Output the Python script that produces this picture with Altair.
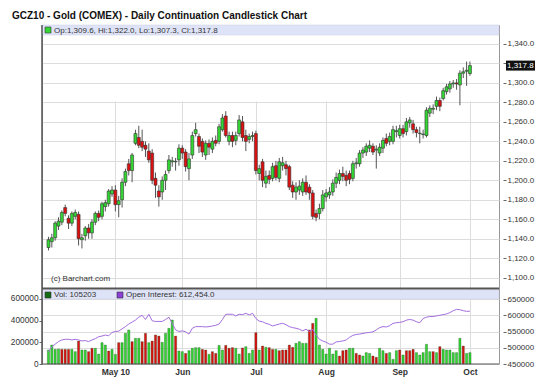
import altair as alt
import pandas as pd

# ---------------- data ----------------
opens = [1131, 1137, 1141, 1153, 1157, 1172, 1161, 1156, 1163, 1165,
         1139, 1143, 1151, 1146, 1157, 1166, 1163, 1173, 1176, 1186,
         1190, 1175, 1180, 1198, 1217, 1210, 1238, 1244, 1240, 1236,
         1230, 1228, 1202, 1189, 1188, 1200, 1210, 1219, 1219, 1221,
         1233, 1229, 1212, 1226, 1248, 1245, 1240, 1226, 1238, 1232,
         1241, 1240, 1252, 1266, 1240, 1246, 1241, 1248, 1260, 1246,
         1242, 1245, 1248, 1207, 1219, 1197, 1205, 1202, 1215, 1202,
         1215, 1216, 1214, 1195, 1188, 1190, 1188, 1198, 1193, 1187,
         1166, 1166, 1171, 1183, 1185, 1188, 1197, 1200, 1207, 1205,
         1207, 1202, 1217, 1217, 1228, 1229, 1233, 1235, 1231, 1228,
         1233, 1243, 1240, 1240, 1250, 1246, 1253, 1250, 1259, 1258,
         1252, 1248, 1247, 1246, 1269, 1273, 1276, 1282, 1284, 1291,
         1294, 1299, 1300, 1298, 1310, 1312, 1309.6]
highs = [1142, 1145, 1158, 1162, 1169, 1175, 1164, 1168, 1170, 1168,
         1145, 1153, 1155, 1160, 1168, 1169, 1178, 1180, 1191, 1194,
         1195, 1184, 1202, 1212, 1222, 1228, 1252, 1256, 1252, 1240,
         1238, 1232, 1208, 1195, 1204, 1210, 1226, 1224, 1223, 1237,
         1236, 1232, 1228, 1250, 1259, 1248, 1243, 1241, 1242, 1244,
         1246, 1258, 1268, 1271, 1250, 1250, 1250, 1267, 1266, 1252,
         1248, 1250, 1251, 1216, 1222, 1210, 1210, 1218, 1220, 1223,
         1224, 1220, 1216, 1199, 1198, 1200, 1202, 1205, 1196, 1190,
         1170, 1176, 1190, 1191, 1193, 1201, 1208, 1211, 1214, 1210,
         1210, 1220, 1223, 1231, 1234, 1238, 1241, 1238, 1236, 1238,
         1244, 1248, 1249, 1256, 1256, 1257, 1257, 1264, 1265, 1262,
         1255, 1255, 1252, 1275, 1277, 1278, 1286, 1285, 1295, 1299,
         1302, 1303, 1304, 1313, 1316, 1322, 1322.0]
lows = [1128, 1131, 1138, 1149, 1154, 1163, 1150, 1153, 1160, 1133,
        1130, 1138, 1140, 1140, 1154, 1158, 1160, 1168, 1173, 1183,
        1168, 1162, 1172, 1194, 1205, 1198, 1236, 1233, 1230, 1224,
        1218, 1196, 1182, 1173, 1180, 1190, 1207, 1214, 1210, 1215,
        1222, 1209, 1200, 1222, 1245, 1228, 1224, 1221, 1226, 1228,
        1235, 1237, 1250, 1244, 1236, 1234, 1236, 1245, 1240, 1230,
        1238, 1240, 1206, 1200, 1193, 1192, 1196, 1199, 1200, 1198,
        1210, 1205, 1190, 1182, 1180, 1185, 1184, 1185, 1180, 1160,
        1158, 1160, 1168, 1178, 1181, 1184, 1192, 1196, 1199, 1194,
        1196, 1199, 1212, 1214, 1223, 1225, 1229, 1226, 1212, 1225,
        1228, 1235, 1236, 1237, 1244, 1243, 1244, 1246, 1254, 1248,
        1244, 1238, 1243, 1244, 1265, 1268, 1272, 1271, 1282, 1288,
        1290, 1295, 1293, 1277, 1305, 1297, 1307.3]
closes = [1139, 1141, 1156, 1158, 1167, 1166, 1156, 1166, 1167, 1140,
          1141, 1151, 1146, 1157, 1166, 1162, 1176, 1177, 1189, 1190,
          1175, 1179, 1198, 1209, 1210, 1226, 1248, 1236, 1234, 1232,
          1221, 1200, 1195, 1183, 1200, 1206, 1221, 1220, 1219.5, 1233,
          1228, 1214, 1222, 1246, 1252, 1235, 1229, 1238, 1234, 1240,
          1238, 1255, 1264, 1246, 1246, 1240, 1246, 1262, 1244, 1240,
          1245, 1246, 1210, 1212, 1200, 1204, 1201, 1214, 1203, 1219,
          1218, 1212, 1193, 1188, 1193, 1194, 1198, 1188, 1187, 1163,
          1162, 1171, 1185, 1187, 1188, 1197, 1203, 1207, 1204, 1200,
          1201, 1217, 1218, 1228, 1231, 1235, 1236, 1229, 1232, 1234,
          1241, 1238, 1245, 1252, 1251, 1253, 1248, 1260, 1262, 1252,
          1249, 1248.5, 1247.5, 1272, 1274, 1274, 1282, 1276, 1292, 1296,
          1299, 1300, 1299, 1310, 1311.5, 1313, 1317.8]
volumes = [129000, 175000, 135000, 138000, 135000, 135000, 135000, 135000, 114000, 212000,
           129000, 129000, 114000, 145000, 145000, 92000, 197000, 175000, 120000, 135000,
           89000, 197000, 197000, 283000, 314000, 206000, 237000, 237000, 206000, 283000,
           197000, 212000, 268000, 258000, 200000, 283000, 329000, 406000, 258000, 120000,
           114000, 98000, 123000, 145000, 151000, 151000, 135000, 129000, 89000, 114000,
           98000, 172000, 129000, 172000, 145000, 151000, 145000, 92000, 148000, 160000,
           98000, 129000, 289000, 129000, 166000, 154000, 151000, 135000, 135000, 123000,
           129000, 129000, 175000, 154000, 191000, 206000, 191000, 191000, 314000, 375000,
           422000, 175000, 135000, 92000, 145000, 92000, 123000, 74000, 123000, 129000,
           145000, 145000, 98000, 83000, 74000, 105000, 98000, 74000, 62000, 145000,
           123000, 98000, 105000, 43000, 123000, 129000, 83000, 123000, 123000, 135000,
           105000, 83000, 105000, 182000, 114000, 114000, 105000, 160000, 135000, 129000,
           129000, 105000, 105000, 237000, 166000, 98000, 105203]
vol_colors = ["g", "g", "g", "g", "r", "r", "r", "g", "g", "r",
              "g", "g", "r", "r", "g", "g", "g", "g", "r", "g",
              "g", "r", "g", "g", "g", "r", "g", "g", "r", "r",
              "g", "r", "r", "r", "g", "g", "g", "g", "r", "g",
              "g", "r", "g", "g", "g", "g", "r", "r", "g", "r",
              "r", "g", "g", "r", "r", "r", "g", "g", "r", "g",
              "g", "g", "r", "g", "r", "g", "r", "r", "g", "r",
              "r", "r", "r", "r", "g", "b", "g", "g", "r", "r",
              "g", "g", "g", "g", "g", "g", "g", "r", "r", "r",
              "g", "g", "r", "r", "g", "g", "g", "r", "r", "g",
              "g", "r", "g", "g", "g", "r", "g", "r", "r", "r",
              "g", "g", "g", "g", "g", "r", "g", "r", "g", "g",
              "g", "g", "g", "g", "r", "g", "g"]
open_interest = [488000, 503000, 511000, 519000, 524000, 526000, 526000, 524000, 526000, 524000,
                 521000, 522000, 519000, 524000, 528000, 534000, 536000, 539000, 537000, 547000,
                 550000, 551000, 558000, 565000, 573000, 579000, 585000, 594000, 600000, 587000,
                 603000, 583000, 581000, 581000, 581000, 587000, 594000, 575000, 555000, 550000,
                 552000, 549000, 542000, 560000, 565000, 565000, 565000, 564000, 565000, 567000,
                 569000, 573000, 587000, 603000, 603000, 603000, 598000, 603000, 602000, 606000,
                 601000, 606000, 590000, 582000, 580000, 575000, 572000, 567000, 570000, 573000,
                 575000, 571000, 565000, 562000, 560000, 557000, 552000, 557000, 550000, 557000,
                 539000, 526000, 521000, 517000, 511000, 511000, 518000, 519000, 521000, 524000,
                 532000, 538000, 541000, 542000, 544000, 546000, 547000, 549000, 555000, 562000,
                 565000, 564000, 568000, 575000, 577000, 578000, 580000, 585000, 587000, 585000,
                 580000, 577000, 590000, 594000, 596000, 596000, 598000, 600000, 602000, 604000,
                 608000, 614000, 618000, 617000, 614000, 612000, 612454]
month_idx = [20, 40, 62, 83, 105, 126]
month_labels = ["May 10", "Jun", "Jul", "Aug", "Sep", "Oct"]
price_ticks = [1100, 1120, 1140, 1160, 1180, 1200, 1220, 1240, 1260, 1280, 1300, 1320, 1340]
vol_ticks = [0, 200000, 400000, 600000]
oi_ticks = [450000, 500000, 550000, 600000, 650000]

title_text = "GCZ10 - Gold (COMEX) - Daily Continuation Candlestick Chart"
ohlc_text = "Op:1,309.6, Hi:1,322.0, Lo:1,307.3, Cl:1,317.8"
vol_text = "Vol: 105203"
oi_text = "Open Interest: 612,454.0"
last_text = "1,317.8"
credit_text = "(c) Barchart.com"

# ---------------- layout ----------------
W, H = 457, 339
MAIN_H = 263
LOW_TOP = 264
FONT = "Liberation Sans"

n = len(closes)
df = pd.DataFrame({
    "i": list(range(n)), "open": opens, "high": highs, "low": lows, "close": closes,
    "vol": volumes, "vcol": vol_colors, "oi": open_interest,
})
df["dir"] = ["up" if c >= o else "down" for o, c in zip(opens, closes)]
df["zero"] = 0

label_expr = " : ".join(
    f"datum.value == {v} ? '{t}'" for v, t in zip(month_idx, month_labels)
) + " : ''"
# the last-price box covers the 1,320.0 label in the reference
price_label_expr = f"abs(datum.value - {closes[-1]}) < 8 ? '' : datum.label"

x_scale = alt.Scale(domain=[-0.44, 133.19], nice=False, zero=False)
x_axis = alt.Axis(values=month_idx, labelExpr=label_expr, grid=True, gridColor="#dddddd",
                  gridWidth=1, ticks=False, domain=False, labelFont=FONT, labelFontSize=8.5,
                  labelFontWeight="bold", labelColor="#333333", labelPadding=3, title=None,
                  labelFlush=False)
x_enc = alt.X("i:Q", scale=x_scale, axis=x_axis)

price_scale = alt.Scale(domain=[1089.4, 1359.5], range=[MAIN_H, 0], nice=False, zero=False)
vol_scale = alt.Scale(domain=[0, 692300], range=[H, LOW_TOP], nice=False, zero=False)
oi_scale = alt.Scale(domain=[450000, 680770], range=[H, LOW_TOP], nice=False, zero=False)

right_axis_style = dict(grid=True, gridColor="#dddddd", domain=False, offset=4,
                        tickColor="#666666", tickSize=3, labelPadding=1, labelFont=FONT,
                        labelFontSize=8, labelColor="#333333", title=None)

base = alt.Chart(df)

wicks = base.mark_rule(color="#555555", strokeWidth=1).encode(
    x=x_enc,
    y=alt.Y("low:Q", scale=price_scale, axis=None),
    y2="high:Q",
)
bodies = base.mark_bar(size=3, stroke="#333333", strokeWidth=0.6).encode(
    x=x_enc,
    y=alt.Y("open:Q", scale=price_scale,
            axis=alt.Axis(orient="right", values=price_ticks, format=",.1f",
                          labelExpr=price_label_expr, **right_axis_style)),
    y2="close:Q",
    color=alt.Color("dir:N", scale=alt.Scale(domain=["up", "down"], range=["#33d633", "#dd1111"]),
                    legend=None),
)
vol_bars = base.mark_bar(size=2.2, stroke="#0c3a0c", strokeWidth=0.3).encode(
    x=x_enc,
    y=alt.Y("vol:Q", scale=vol_scale,
            axis=alt.Axis(orient="left", values=vol_ticks, format="d", grid=False,
                          domain=False, tickColor="#666666", tickSize=3, labelPadding=1,
                          labelFont=FONT, labelFontSize=8.3, labelColor="#333333", title=None)),
    y2="zero:Q",
    color=alt.Color("vcol:N", scale=alt.Scale(domain=["g", "r", "b"],
                                              range=["#136b13", "#e8282a", "#1a237e"]),
                    legend=None),
)
oi_line = base.mark_line(color="#a46ee0", strokeWidth=1).encode(
    x=x_enc,
    y=alt.Y("oi:Q", scale=oi_scale,
            axis=alt.Axis(orient="right", values=oi_ticks, format="d", **right_axis_style)),
)

one = alt.Chart(pd.DataFrame({"a": [0]}))

bands = alt.layer(
    one.mark_rect(color="#dfe3f7", stroke="#c9cde6", strokeWidth=0.5).encode(
        x=alt.value(0), x2=alt.value(W), y=alt.value(0), y2=alt.value(10)),
    one.mark_rect(color="#dfe3f7", stroke="#c9cde6", strokeWidth=0.5).encode(
        x=alt.value(0), x2=alt.value(W), y=alt.value(LOW_TOP + 1), y2=alt.value(LOW_TOP + 10)),
)
squares = alt.layer(
    one.mark_rect(color="#33d633", stroke="#333333", strokeWidth=0.6).encode(
        x=alt.value(3), x2=alt.value(9), y=alt.value(2), y2=alt.value(8)),
    one.mark_rect(color="#136b13", stroke="#333333", strokeWidth=0.6).encode(
        x=alt.value(3), x2=alt.value(9), y=alt.value(LOW_TOP + 3), y2=alt.value(LOW_TOP + 9)),
    one.mark_rect(color="#8a3fd6", stroke="#333333", strokeWidth=0.6).encode(
        x=alt.value(75), x2=alt.value(81), y=alt.value(LOW_TOP + 3), y2=alt.value(LOW_TOP + 9)),
)

def label(txt, x, y, size=8, weight="normal", color="#333333", align="left", baseline="middle"):
    return one.mark_text(text=txt, font=FONT, fontSize=size, fontWeight=weight, color=color,
                         align=align, baseline=baseline).encode(x=alt.value(x), y=alt.value(y))

texts = alt.layer(
    label(title_text, -30, -9, size=10, weight="bold", color="#111111"),
    label(ohlc_text, 12, 5.5),
    label(vol_text, 12, LOW_TOP + 6),
    label(oi_text, 84, LOW_TOP + 6),
    label(credit_text, 9, 253.5),
)

last_df = pd.DataFrame({"p": [closes[-1]]})
last_box = alt.Chart(last_df).mark_rect(color="#111111", height=10).encode(
    x=alt.value(W + 7), x2=alt.value(W + 36),
    y=alt.Y("p:Q", scale=price_scale, axis=None),
)
last_lbl = alt.Chart(last_df).mark_text(
    text=last_text, font=FONT, fontSize=8, color="white", align="left", baseline="middle",
).encode(x=alt.value(W + 8), y=alt.Y("p:Q", scale=price_scale, axis=None))

frame = alt.layer(
    one.mark_rule(color="#555555", strokeWidth=2).encode(
        x=alt.value(0), x2=alt.value(W), y=alt.value(MAIN_H + 0.5)),
    one.mark_rule(color="#555555", strokeWidth=1.5).encode(
        x=alt.value(0), y=alt.value(0), y2=alt.value(H)),
    one.mark_rule(color="#555555", strokeWidth=1).encode(
        x=alt.value(0), x2=alt.value(W), y=alt.value(H)),
)

chart = alt.layer(
    wicks, bodies, vol_bars, oi_line, bands, squares, texts, last_box, last_lbl, frame
).resolve_scale(y="independent").properties(
    width=W, height=H,
    autosize=alt.AutoSizeParams(type="none"),
    padding={"left": 34, "top": 17, "right": 43, "bottom": 16},
).configure_view(stroke="#999999", strokeWidth=1)

chart.save("out.html", embed_options={"renderer": "svg", "actions": False})
